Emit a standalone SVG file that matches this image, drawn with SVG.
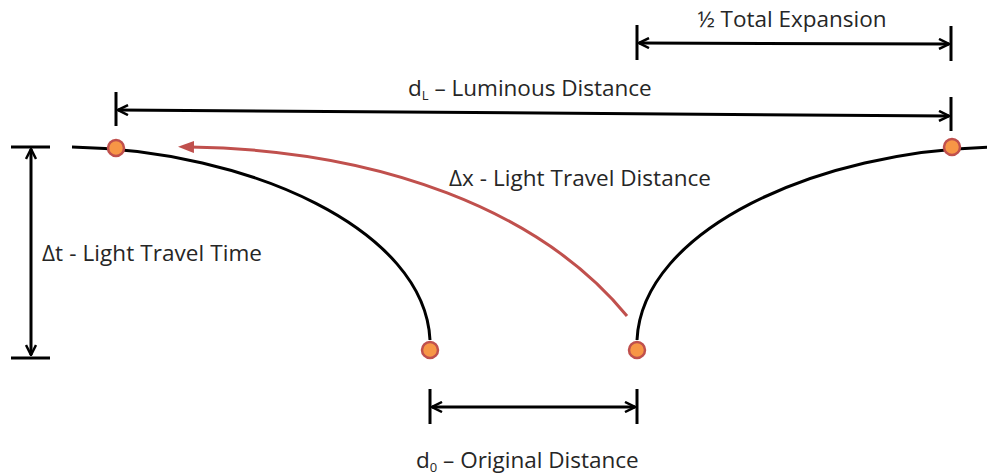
<svg xmlns="http://www.w3.org/2000/svg" width="987" height="476" viewBox="0 0 987 476">
<style>
.ln{stroke:#000;stroke-width:3;fill:none}
.tick{stroke:#000;stroke-width:3}
.dot{fill:#F79646;stroke:#C0504D;stroke-width:2.5}
text{font-family:"Open Sans","Liberation Sans",sans-serif;font-size:22.5px;fill:#262626}
</style>
<defs>
<marker id="ah" viewBox="0 0 12 12" refX="11" refY="6" markerWidth="12" markerHeight="12" markerUnits="userSpaceOnUse" orient="auto-start-reverse">
<path d="M1,1 L11,6 L1,11" fill="none" stroke="#000" stroke-width="2.5"/>
</marker>
<marker id="rh" viewBox="0 0 16 12" refX="4" refY="6" markerWidth="16" markerHeight="12" markerUnits="userSpaceOnUse" orient="auto">
<path d="M0,0 L16,6 L0,12 Z" fill="#C0504D"/>
</marker>
</defs>
<g id="connectors">
<path id="left-curve" class="ln" d="M72,147 C250,150 425,230 430,340"/>
<path id="right-curve" class="ln" d="M637,340 C642,230 817,150 995,147"/>
<path id="light-path" d="M627,316 C540,210 380,150 190,147" fill="none" stroke="#C0504D" stroke-width="3" marker-end="url(#rh)"/>
<line class="ln" x1="639" y1="43" x2="949" y2="44" marker-start="url(#ah)" marker-end="url(#ah)"/>
<line class="tick" x1="637" y1="25" x2="637" y2="60"/>
<line class="tick" x1="951" y1="26" x2="951" y2="61"/>
<line class="ln" x1="118" y1="110" x2="949" y2="116" marker-start="url(#ah)" marker-end="url(#ah)"/>
<line class="tick" x1="116" y1="92" x2="116" y2="126"/>
<line class="tick" x1="951" y1="97" x2="951" y2="131"/>
<line class="ln" x1="31" y1="149" x2="31" y2="355" marker-start="url(#ah)" marker-end="url(#ah)"/>
<line class="tick" x1="11" y1="147" x2="50" y2="147"/>
<line class="tick" x1="11" y1="358" x2="50" y2="358"/>
<line class="ln" x1="432" y1="407" x2="635" y2="407" marker-start="url(#ah)" marker-end="url(#ah)"/>
<line class="tick" x1="430" y1="389" x2="430" y2="424"/>
<line class="tick" x1="637" y1="389" x2="637" y2="424"/>
</g>
<g id="dot-a"><circle class="dot" cx="116" cy="148" r="8"/></g>
<g id="dot-b"><circle class="dot" cx="952" cy="147" r="8"/></g>
<g id="dot-c"><circle class="dot" cx="430" cy="350" r="8"/></g>
<g id="dot-d"><circle class="dot" cx="637" cy="350" r="8"/></g>
<g id="labels">
<text x="792" y="27" text-anchor="middle" textLength="189">½ Total Expansion</text>
<text x="408" y="96">d<tspan font-size="13" dy="4">L</tspan><tspan dy="-4"> – Luminous Distance</tspan></text>
<text x="449" y="186" textLength="262">Δx - Light Travel Distance</text>
<text x="42" y="261" textLength="220">Δt - Light Travel Time</text>
<text x="416" y="468">d<tspan font-size="13" dy="4">0</tspan><tspan dy="-4"> – Original Distance</tspan></text>
</g>
</svg>
